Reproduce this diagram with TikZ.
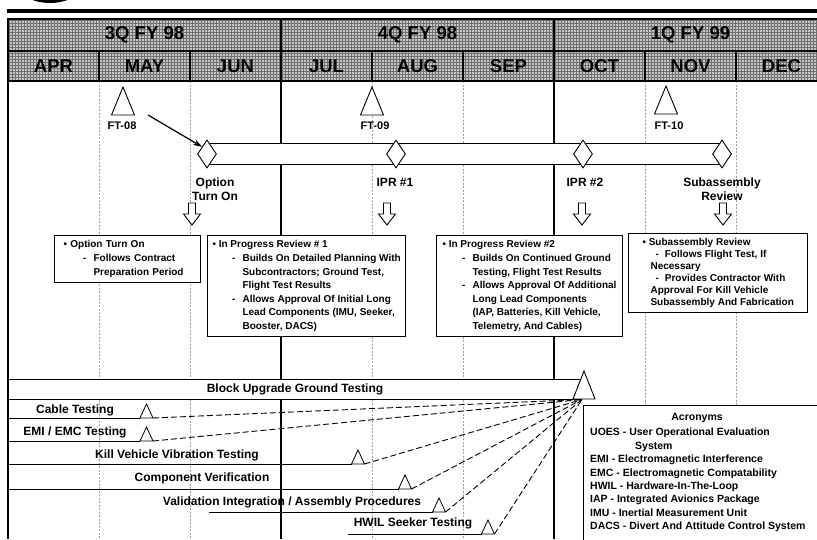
\documentclass[tikz,border=0pt]{standalone}
\usepackage{fontspec}
\setmainfont{Liberation Sans}
\usetikzlibrary{arrows.meta,shapes.geometric,patterns}
\definecolor{HeadGray}{HTML}{C6C6C6}
\definecolor{HeadDot}{HTML}{707070}
\definecolor{MonthLine}{HTML}{A0A0A0}

\newcommand{\dashitem}{\makebox[30pt][r]{-\hspace{7pt}}}
\newcommand{\contitem}{\hspace*{30pt}}

\tikzset{
  infobox/.style={draw, line width=1.1pt, fill=white, anchor=north west, align=left,
    inner xsep=6pt, inner ysep=5pt, font=\fontsize{10}{13.6}\selectfont\bfseries},
  rowlabel/.style={font=\fontsize{12}{14}\selectfont\bfseries},
  mslabel/.style={font=\fontsize{12}{14}\selectfont\bfseries, align=center},
  ftlabel/.style={font=\fontsize{11}{13}\selectfont\bfseries},
  headlabel/.style={font=\fontsize{18.5}{20}\selectfont\bfseries},
  review/.style={diamond, draw, fill=white, line width=0.9pt, minimum width=19pt,
    minimum height=28pt, inner sep=0pt},
  flighttest/.style={draw, line width=0.9pt, fill=white},
  testmark/.style={draw, line width=0.8pt, fill=white},
  rowline/.style={line width=1pt},
  feeder/.style={line width=0.9pt, dash pattern=on 6pt off 3pt},
  monthline/.style={MonthLine, line width=0.5pt, dash pattern=on 2pt off 1.5pt},
  downarrow/.style={draw, line width=0.9pt, fill=white},
}

\begin{document}
\begin{tikzpicture}[x=1pt, y=-1pt, >={Stealth[length=9pt, width=6pt]}]
    \path[use as bounding box, clip] (0,0) rectangle (817,539);

    % ========== Top rule and logo ==========
    \fill (50,-49.5) circle (52.5);
    \draw[line width=4pt] (7,10.5) -- (830,10.5);

    % ========== Month grid ==========
    \foreach \i in {1,2,4,5,7,8}
        \draw[monthline] ({8+91*\i},81) -- ({8+91*\i},539);
    \draw[line width=1.3pt] (281,81) -- (281,539);
    \draw[line width=1.3pt] (554,81) -- (554,539);
    \draw[line width=1.3pt] (8,19) -- (8,539);

    % ========== Header ==========
    \fill[HeadGray] (8,19) rectangle (830,81);
    \fill[pattern=grid, pattern color=HeadDot] (8,19) rectangle (830,81);
    \draw[line width=1.3pt] (8,19) rectangle (830,81);
    \draw[line width=1.3pt] (8,51) -- (830,51);
    \foreach \i in {1,...,8}
        \draw[line width=1.3pt] ({8+91*\i},{\i==3 || \i==6 ? 19 : 51}) -- ({8+91*\i},81);
    \foreach \q [count=\i] in {3Q FY 98, 4Q FY 98, 1Q FY 99}
        \node[headlabel] (qtr\i) at ({8+273*(\i-0.5)},35) {\q};
    \foreach \m [count=\i] in {APR,MAY,JUN,JUL,AUG,SEP,OCT,NOV,DEC}
        \node[headlabel] (mon\i) at ({8+91*(\i-0.5)},66) {\m};

    % ========== Flight tests ==========
    \draw[flighttest] (111.5,115) -- (123,87) -- (134.5,115) -- cycle;
    \node[ftlabel] (ft08) at (122,126) {FT-08};
    \draw[flighttest] (360.5,115) -- (372,87) -- (383.5,115) -- cycle;
    \node[ftlabel] (ft09) at (375,126) {FT-09};
    \draw[flighttest] (654.5,114) -- (666,86) -- (677.5,114) -- cycle;
    \node[ftlabel] (ft10) at (669,126) {FT-10};

    % ========== Review milestones ==========
    \draw[line width=1pt, fill=white] (207,143.5) rectangle (722,164.5);
    \node[review] (opt) at (207,154) {};
    \node[review] (ipr1) at (396,154) {};
    \node[review] (ipr2) at (583,154) {};
    \node[review] (sub) at (722,154) {};
    \coordinate (ftarrow) at (148,115);
    \draw[->, line width=1.2pt] (ftarrow) -- (opt.north west);

    \node[mslabel] (optlbl) at (215,189) {Option\\Turn On};
    \node[mslabel] (ipr1lbl) at (395,182) {IPR \#1};
    \node[mslabel] (ipr2lbl) at (585,182) {IPR \#2};
    \node[mslabel] (sublbl) at (722,189) {Subassembly\\Review};

    \foreach \ax in {192,387,582,723}
        \draw[downarrow] (\ax-3.5,203) -- (\ax+3.5,203) -- (\ax+3.5,214) -- (\ax+8.5,214)
            -- (\ax,225) -- (\ax-8.5,214) -- (\ax-3.5,214) -- cycle;

    % ========== Review notes ==========
    \node[infobox, inner xsep=9pt, text width=128pt] (optbox) at (54,235)
        {\textbullet\ Option Turn On\\
         \dashitem Follows Contract\\
         \contitem Preparation Period};
    \node[infobox, inner xsep=5pt] (ipr1box) at (207,235)
        {\textbullet\ In Progress Review \# 1\\
         \dashitem Builds On Detailed Planning With\\
         \contitem Subcontractors; Ground Test,\\
         \contitem Flight Test Results\\
         \dashitem Allows Approval Of Initial Long\\
         \contitem Lead Components (IMU, Seeker,\\
         \contitem Booster, DACS)};
    \node[infobox, inner xsep=6pt] (ipr2box) at (436,235)
        {\textbullet\ In Progress Review \#2\\
         \dashitem Builds On Continued Ground\\
         \contitem Testing, Flight Test Results\\
         \dashitem Allows Approval Of Additional\\
         \contitem Long Lead Components\\
         \contitem (IAP, Batteries, Kill Vehicle,\\
         \contitem Telemetry, And Cables)};
    \node[infobox, inner xsep=14pt,
          font=\fontsize{10}{12}\selectfont\bfseries] (subbox) at (628,233)
        {\textbullet\ Subassembly Review\\
         \hspace*{13pt}-\hspace*{6pt}Follows Flight Test, If\\
         \hspace*{8pt}Necessary\\
         \hspace*{13pt}-\hspace*{6pt}Provides Contractor With\\
         \hspace*{8pt}Approval For Kill Vehicle\\
         \hspace*{8pt}Subassembly And Fabrication};

    % ========== Ground testing ==========
    \draw[rowline, fill=white] (8,379) rectangle (580,399);
    \draw[testmark, line width=0.9pt] (573,399) -- (584,371) -- (595,399) -- cycle;
    \coordinate (bugt) at (582,399.5);
    \node[rowlabel] (bugtlbl) at (295,389) {Block Upgrade Ground Testing};

    \foreach \sx/\tx/\ty/\tn in {8/146.5/418/cable, 8/146.5/441/emi, 8/358/464/kill,
                                 8/405/489/comp, 209/439/512/valid, 348/488/534/hwil} {
        \draw[rowline] (\sx,\ty) -- (\tx-6.5,\ty);
        \draw[testmark] (\tx-6.5,\ty) -- (\tx,\ty-14) -- (\tx+6.5,\ty) coordinate (\tn) -- cycle;
        \draw[feeder] (\tn) -- (bugt);
    }

    \node[rowlabel] (cablelbl) at (75,410) {Cable Testing};
    \node[rowlabel] (emilbl) at (75,432) {EMI / EMC Testing};
    \node[rowlabel] (killlbl) at (177,455) {Kill Vehicle Vibration Testing};
    \node[rowlabel] (complbl) at (202,478) {Component Verification};
    \node[rowlabel] (validlbl) at (292,502) {Validation Integration / Assembly Procedures};
    \node[rowlabel] (hwillbl) at (413,523) {HWIL Seeker Testing};

    % ========== Acronyms ==========
    \node[draw, line width=1.1pt, fill=white, anchor=north west, minimum width=240pt,
          minimum height=136pt] (acr) at (583,405) {};
    \node[font=\fontsize{10.5}{12}\selectfont\bfseries] (acrtitle) at (697,418) {Acronyms};
    \node[anchor=north west, align=left, inner sep=0pt,
          font=\fontsize{10.5}{13.4}\selectfont\bfseries] (acrlist) at (590,428)
        {UOES - User Operational Evaluation\\
         \hspace*{45pt}System\\
         EMI - Electromagnetic Interference\\
         EMC - Electromagnetic Compatability\\
         HWIL - Hardware-In-The-Loop\\
         IAP - Integrated Avionics Package\\
         IMU - Inertial Measurement Unit\\
         DACS - Divert And Attitude Control System};

\end{tikzpicture}
\end{document}
